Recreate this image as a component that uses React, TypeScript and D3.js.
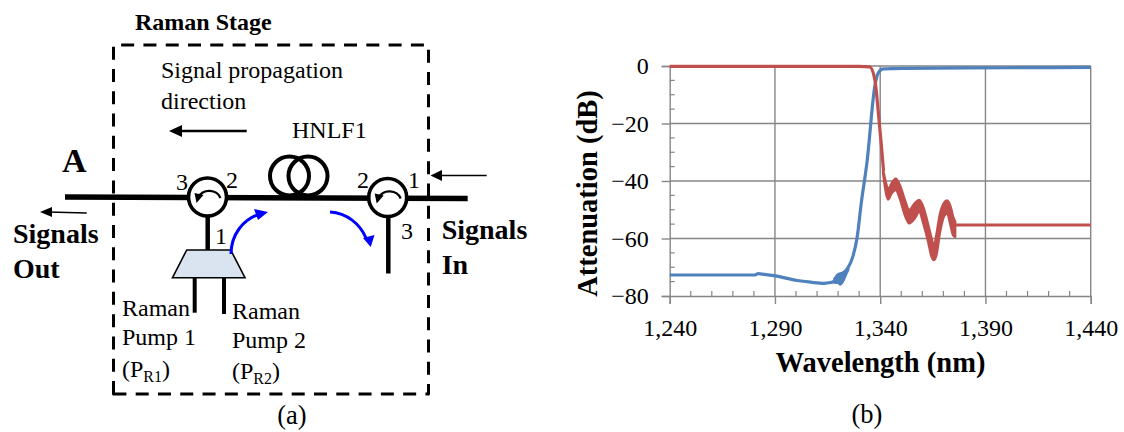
import React, { useRef, useEffect } from 'react';
import * as d3 from 'd3';

// panel (b) values
const xTicks = [1240, 1290, 1340, 1390, 1440];
const yTicks = [0, -20, -40, -60, -80];
const xMinor = [1250, 1260, 1270, 1280, 1300, 1310, 1320, 1330, 1350, 1360, 1370, 1380, 1400, 1410, 1420, 1430];
const yMinor = [-5, -10, -15, -25, -30, -35, -45, -50, -55, -65, -70, -75];

const blueWl = [1240, 1280.5, 1282, 1285, 1290, 1300.5, 1307, 1313.3, 1319.5, 1321, 1324, 1327, 1329, 1331, 1333.8, 1337.4, 1339, 1341.4, 1351, 1400, 1440];
const blueDb = [-72.7, -72.7, -72.2, -72.5, -73, -74.6, -75.2, -75.6, -74.6, -73.8, -71, -66.3, -59.8, -47.7, -33, -7.2, -2.5, -1, -0.8, -0.6, -0.5];
const blueNoiseWl = [1318, 1320, 1321, 1322.5, 1324, 1325];
const blueNoiseHi = [-74, -72.2, -72, -71.5, -70.5, -69.5];
const blueNoiseLo = [-75.5, -75.6, -76.2, -75, -72.5, -71];

const redWl = [1240, 1300, 1330, 1335, 1337.5, 1339, 1340.6, 1341.6];
const redDb = [-0.1, -0.1, -0.1, -0.3, -4.9, -15.3, -28, -36.5];
const redNoiseWl = [1341.4, 1343, 1343.8, 1345.4, 1347.4, 1349.3, 1351.7, 1353.8, 1356.4, 1358.5, 1360.7, 1362.8, 1364.4, 1365.5, 1366.7, 1368.3, 1370.2, 1371.8, 1373.4, 1374.6, 1375.6];
const redNoiseHi = [-36.2, -41.4, -43.1, -40.8, -39.2, -41.4, -46.6, -50.1, -47.8, -46.6, -49.5, -55.3, -60, -62.8, -58.8, -51.8, -47.8, -46.8, -48.9, -52.4, -54.1];
const redNoiseLo = [-37.3, -44.9, -46.4, -44.3, -43.1, -46, -51.8, -54.7, -53, -50.7, -55.3, -61.1, -66.3, -67.5, -65.7, -58.2, -52.4, -51.2, -55.3, -58.8, -59.4];
const redTailWl = [1375, 1440];
const redTailDb = [-55.3, -55.3];

const serif = '"Liberation Serif", "Times New Roman", serif';
const gridColor = '#868686';
const blue = '#4f81bd';
const red = '#c0504d';

const Chart = () => {
  const gRef = useRef<SVGGElement>(null);

  useEffect(() => {
    const g = d3.select(gRef.current);
    g.selectAll('*').remove();

    const x = d3.scaleLinear().domain([1240, 1440]).range([669.7, 1090.7]);
    const y = d3.scaleLinear().domain([0, -80]).range([66, 296]);

    // gridlines
    g.append('g').selectAll('line').data(xTicks.slice(1)).join('line')
      .attr('x1', d => x(d)).attr('x2', d => x(d))
      .attr('y1', y(0)).attr('y2', y(-80))
      .attr('stroke', gridColor).attr('stroke-width', 1.4);
    g.append('g').selectAll('line').data(yTicks.slice(0, -1)).join('line')
      .attr('x1', x(1240)).attr('x2', x(1440))
      .attr('y1', d => y(d)).attr('y2', d => y(d))
      .attr('stroke', gridColor).attr('stroke-width', 1.4);

    // minor ticks point inwards
    g.append('g').selectAll('line').data(xMinor).join('line')
      .attr('x1', d => x(d)).attr('x2', d => x(d))
      .attr('y1', y(-80)).attr('y2', y(-80) - 5)
      .attr('stroke', gridColor).attr('stroke-width', 1.2);
    g.append('g').selectAll('line').data(yMinor).join('line')
      .attr('x1', x(1240)).attr('x2', x(1240) + 5)
      .attr('y1', d => y(d)).attr('y2', d => y(d))
      .attr('stroke', gridColor).attr('stroke-width', 1.2);

    const xAxis = d3.axisBottom(x).tickValues(xTicks).tickFormat(d3.format(',') as any).tickSize(8).tickPadding(15);
    const yAxis = d3.axisLeft(y).tickValues(yTicks).tickFormat(d3.format('d') as any).tickSize(8).tickPadding(13);

    const gx = g.append('g').attr('transform', `translate(0,${y(-80)})`).call(xAxis);
    const gy = g.append('g').attr('transform', `translate(${x(1240)},0)`).call(yAxis);
    [gx, gy].forEach(a => {
      a.selectAll('path').attr('stroke', gridColor).attr('stroke-width', 1.4);
      a.selectAll('.tick line').attr('stroke', gridColor).attr('stroke-width', 1.4);
      a.selectAll('text').attr('fill', '#000').attr('font-size', 24).attr('font-family', serif);
    });

    const lineGen = d3.line<number>()
      .x(d => x(d))
      .curve(d3.curveMonotoneX);
    const band = d3.area<number>().x(d => x(d)).curve(d3.curveMonotoneX);

    // blue trace
    g.append('path')
      .attr('d', lineGen.y((_, i) => y(blueDb[i]))(blueWl))
      .attr('fill', 'none').attr('stroke', blue).attr('stroke-width', 3.2);
    g.append('path')
      .attr('d', band.y0((_, i) => y(blueNoiseHi[i])).y1((_, i) => y(blueNoiseLo[i]))(blueNoiseWl))
      .attr('fill', blue).attr('stroke', blue).attr('stroke-width', 1.5);

    // red trace
    g.append('path')
      .attr('d', lineGen.y((_, i) => y(redTailDb[i]))(redTailWl))
      .attr('fill', 'none').attr('stroke', red).attr('stroke-width', 2.8);
    g.append('path')
      .attr('d', lineGen.y((_, i) => y(redDb[i]))(redWl))
      .attr('fill', 'none').attr('stroke', red).attr('stroke-width', 3.2);
    g.append('path')
      .attr('d', band.y0((_, i) => y(redNoiseHi[i])).y1((_, i) => y(redNoiseLo[i]))(redNoiseWl))
      .attr('fill', red).attr('stroke', red).attr('stroke-width', 2.5).attr('stroke-linejoin', 'round');
  }, []);

  return <g ref={gRef} />;
};

// circulator symbol with its little arrow inside
const Circulator = ({ cx, cy }: { cx: number; cy: number }) => (
  <g transform={`translate(${cx},${cy})`}>
    <circle r={19} fill="#fff" stroke="#000" strokeWidth={3.6} />
    <path d="M 13 1 A 12 11 0 0 0 -9 0" fill="none" stroke="#000" strokeWidth={2.2} />
    <path d="M -11 6 L -13 -4 L -4 -2 Z" fill="#000" />
  </g>
);

const Diagram = () => (
  <g fontFamily={serif} fontSize={24} fill="#000">
    <text x={135} y={30} fontWeight="bold">Raman Stage</text>

    <path
      d="M 113.5 394 L 113.5 45 L 428.5 45 L 428.5 394 Z"
      fill="none" stroke="#000" strokeWidth={3} strokeDasharray="13 9.29" strokeLinejoin="round"
    />

    <text x={161} y={78}>Signal propagation</text>
    <text x={161} y={109}>direction</text>
    <text x={292} y={138}>HNLF1</text>

    {/* signal arrows */}
    <line x1={246.7} y1={131} x2={178} y2={131} stroke="#000" strokeWidth={2.6} />
    <path d="M 169 131 L 182 125 L 182 137 Z" fill="#000" />
    <line x1={86.7} y1={213} x2={48} y2={212} stroke="#000" strokeWidth={1.6} />
    <path d="M 40 212 L 52 207 L 52 217 Z" fill="#000" />
    <line x1={486.7} y1={175.5} x2={438} y2={175.5} stroke="#000" strokeWidth={1.6} />
    <path d="M 430.5 175.5 L 442 170 L 442 181 Z" fill="#000" />

    {/* fibre coil */}
    <circle cx={289.5} cy={176} r={19.5} fill="none" stroke="#000" strokeWidth={4} />
    <circle cx={308} cy={176} r={19.5} fill="none" stroke="#000" strokeWidth={4} />

    {/* main fibre */}
    <line x1={65} y1={197} x2={467.7} y2={198.5} stroke="#000" strokeWidth={5.5} />

    {/* arms */}
    <line x1={207.7} y1={214} x2={207.7} y2={250} stroke="#000" strokeWidth={4.5} />
    <line x1={388.3} y1={214} x2={388.3} y2={273.5} stroke="#000" strokeWidth={4.5} />
    <line x1={194.7} y1={277} x2={194.7} y2={312.7} stroke="#000" strokeWidth={4} />
    <line x1={224} y1={277} x2={224} y2={314} stroke="#000" strokeWidth={4} />
    <path d="M 186.7 250 L 230.7 250 L 245 277.7 L 172.5 277.7 Z" fill="#dae3f0" stroke="#000" strokeWidth={1.6} />

    <Circulator cx={207.5} cy={197} />
    <Circulator cx={387.7} cy={197.5} />

    {/* pump arrows */}
    <path d="M 231 254 C 231 235 243 219 260 214" fill="none" stroke="#0000ff" strokeWidth={3} />
    <path d="M 268 212 L 254 209 L 258 220 Z" fill="#0000ff" />
    <path d="M 330 212 C 347 213 360 224 366 238" fill="none" stroke="#0000ff" strokeWidth={3} />
    <path d="M 370.7 247 L 374.5 235 L 363 238 Z" fill="#0000ff" />

    {/* port numbers */}
    <text x={176} y={190}>3</text>
    <text x={226} y={188}>2</text>
    <text x={357} y={188}>2</text>
    <text x={408} y={188}>1</text>
    <text x={215} y={243.5}>1</text>
    <text x={401} y={239}>3</text>

    <g fontWeight="bold">
      <text x={62} y={172} fontSize={34}>A</text>
      <text x={13} y={242.7} fontSize={28}>Signals</text>
      <text x={13} y={277.7} fontSize={28}>Out</text>
      <text x={441.7} y={239.3} fontSize={28}>Signals</text>
      <text x={441.7} y={274.3} fontSize={28}>In</text>
    </g>

    <text x={122} y={316}>Raman</text>
    <text x={122} y={345.3}>Pump 1</text>
    <text x={122} y={376.7}>(P<tspan fontSize={16} dy={5}>R1</tspan><tspan dy={-5}>)</tspan></text>
    <text x={232} y={319.3}>Raman</text>
    <text x={232} y={348.3}>Pump 2</text>
    <text x={232} y={379.3}>(P<tspan fontSize={16} dy={5}>R2</tspan><tspan dy={-5}>)</tspan></text>

    <text x={292} y={424} textAnchor="middle" fontSize={26.5}>(a)</text>
    <text x={867} y={423} textAnchor="middle" fontSize={26.5}>(b)</text>

    <text x={880.5} y={372} textAnchor="middle" fontWeight="bold" fontSize={28.5}>Wavelength (nm)</text>
    <text transform="translate(597,193.5) rotate(-90)" textAnchor="middle" fontWeight="bold" fontSize={28.5}>Attenuation (dB)</text>
  </g>
);

export default function App() {
  return (
    <svg width={1124} height={432} style={{ position: 'absolute', left: 0, top: 0, display: 'block', background: '#fff' }}>
      <Chart />
      <Diagram />
    </svg>
  );
}
